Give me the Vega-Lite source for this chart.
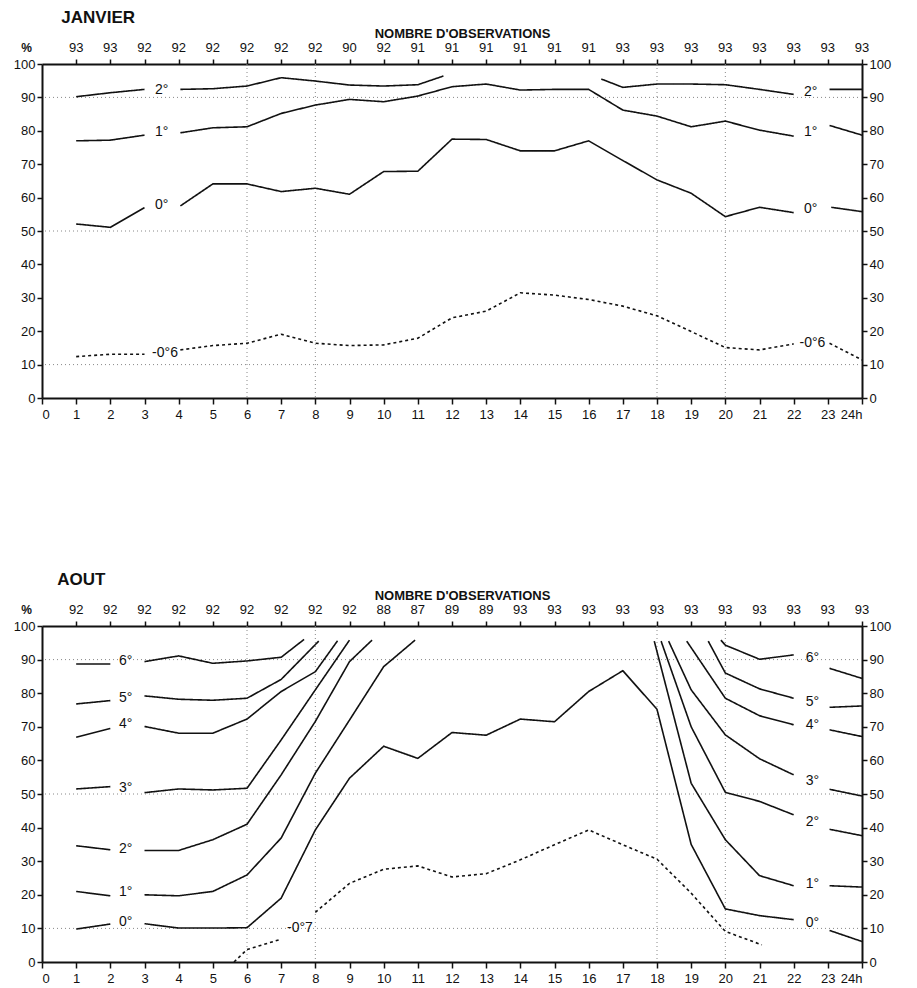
{
  "$schema": "https://vega.github.io/schema/vega-lite/v6.json",
  "background": "white",
  "padding": {"left": 13, "top": 9, "right": 5, "bottom": 5},
  "config": {
    "font": "Liberation Sans",
    "view": {"stroke": null},
    "axis": {"domainColor": "#111", "domainWidth": 2, "tickColor": "#111", "tickWidth": 1.5, "labelColor": "#111", "labelFont": "Liberation Sans", "labelFontSize": 13, "grid": false, "titleColor": "#111"}
  },
  "datasets": {
    "gx": [{"h": 6}, {"h": 8}, {"h": 18}, {"h": 20}],
    "gy": [{"v": 10}, {"v": 50}, {"v": 90}],
    "janN": [
      {"h": 1, "n": "93"}, {"h": 2, "n": "93"}, {"h": 3, "n": "92"}, {"h": 4, "n": "92"}, {"h": 5, "n": "92"}, {"h": 6, "n": "92"},
      {"h": 7, "n": "92"}, {"h": 8, "n": "92"}, {"h": 9, "n": "90"}, {"h": 10, "n": "92"}, {"h": 11, "n": "91"}, {"h": 12, "n": "91"},
      {"h": 13, "n": "91"}, {"h": 14, "n": "91"}, {"h": 15, "n": "91"}, {"h": 16, "n": "91"}, {"h": 17, "n": "93"}, {"h": 18, "n": "93"},
      {"h": 19, "n": "93"}, {"h": 20, "n": "93"}, {"h": 21, "n": "93"}, {"h": 22, "n": "93"}, {"h": 23, "n": "93"}, {"h": 24, "n": "93"}
    ],
    "aouN": [
      {"h": 1, "n": "92"}, {"h": 2, "n": "92"}, {"h": 3, "n": "92"}, {"h": 4, "n": "92"}, {"h": 5, "n": "92"}, {"h": 6, "n": "92"},
      {"h": 7, "n": "92"}, {"h": 8, "n": "92"}, {"h": 9, "n": "92"}, {"h": 10, "n": "88"}, {"h": 11, "n": "87"}, {"h": 12, "n": "89"},
      {"h": 13, "n": "89"}, {"h": 14, "n": "93"}, {"h": 15, "n": "93"}, {"h": 16, "n": "93"}, {"h": 17, "n": "93"}, {"h": 18, "n": "93"},
      {"h": 19, "n": "93"}, {"h": 20, "n": "93"}, {"h": 21, "n": "93"}, {"h": 22, "n": "93"}, {"h": 23, "n": "93"}, {"h": 24, "n": "93"}
    ],
    "janT": [
      {"h": 3.5, "v": 92.3, "t": "2°"}, {"h": 3.5, "v": 79.6, "t": "1°"}, {"h": 3.5, "v": 57.8, "t": "0°"}, {"h": 3.6, "v": 13.6, "t": "-0°6"},
      {"h": 22.5, "v": 91.7, "t": "2°"}, {"h": 22.5, "v": 79.7, "t": "1°"}, {"h": 22.5, "v": 56.6, "t": "0°"}, {"h": 22.55, "v": 16.4, "t": "-0°6"}
    ],
    "aouT": [
      {"h": 2.45, "v": 89.6, "t": "6°"}, {"h": 2.45, "v": 78.7, "t": "5°"}, {"h": 2.45, "v": 70.9, "t": "4°"}, {"h": 2.45, "v": 51.9, "t": "3°"},
      {"h": 2.45, "v": 33.6, "t": "2°"}, {"h": 2.45, "v": 20.7, "t": "1°"}, {"h": 2.45, "v": 11.8, "t": "0°"}, {"h": 7.55, "v": 10.1, "t": "-0°7"},
      {"h": 22.55, "v": 90.4, "t": "6°"}, {"h": 22.55, "v": 77.5, "t": "5°"}, {"h": 22.55, "v": 70.6, "t": "4°"}, {"h": 22.55, "v": 54.0, "t": "3°"},
      {"h": 22.55, "v": 41.8, "t": "2°"}, {"h": 22.55, "v": 23.3, "t": "1°"}, {"h": 22.55, "v": 11.6, "t": "0°"}
    ],
    "janL": [
      {"s": "2°", "k": 1, "h": 1, "v": 90.2}, {"s": "2°", "k": 1, "h": 2, "v": 91.4}, {"s": "2°", "k": 1, "h": 3, "v": 92.4},
      {"s": "2°", "k": 2, "h": 4.05, "v": 92.4}, {"s": "2°", "k": 2, "h": 5, "v": 92.6}, {"s": "2°", "k": 2, "h": 6, "v": 93.4}, {"s": "2°", "k": 2, "h": 7, "v": 95.9},
      {"s": "2°", "k": 2, "h": 8, "v": 94.9}, {"s": "2°", "k": 2, "h": 9, "v": 93.7}, {"s": "2°", "k": 2, "h": 10, "v": 93.4}, {"s": "2°", "k": 2, "h": 11, "v": 93.8},
      {"s": "2°", "k": 2, "h": 11.75, "v": 96.4},
      {"s": "2°", "k": 3, "h": 16.37, "v": 95.5}, {"s": "2°", "k": 3, "h": 17, "v": 93.0}, {"s": "2°", "k": 3, "h": 18, "v": 94.0}, {"s": "2°", "k": 3, "h": 19, "v": 94.0},
      {"s": "2°", "k": 3, "h": 20, "v": 93.8}, {"s": "2°", "k": 3, "h": 21, "v": 92.4}, {"s": "2°", "k": 3, "h": 22, "v": 90.9},
      {"s": "2°", "k": 4, "h": 23.05, "v": 92.4}, {"s": "2°", "k": 4, "h": 24, "v": 92.4},
      {"s": "1°", "k": 1, "h": 1, "v": 77.0}, {"s": "1°", "k": 1, "h": 2, "v": 77.2}, {"s": "1°", "k": 1, "h": 3, "v": 78.7},
      {"s": "1°", "k": 2, "h": 4.05, "v": 79.4}, {"s": "1°", "k": 2, "h": 5, "v": 80.9}, {"s": "1°", "k": 2, "h": 6, "v": 81.2}, {"s": "1°", "k": 2, "h": 7, "v": 85.2},
      {"s": "1°", "k": 2, "h": 8, "v": 87.7}, {"s": "1°", "k": 2, "h": 9, "v": 89.4}, {"s": "1°", "k": 2, "h": 10, "v": 88.7}, {"s": "1°", "k": 2, "h": 11, "v": 90.4},
      {"s": "1°", "k": 2, "h": 12, "v": 93.2}, {"s": "1°", "k": 2, "h": 13, "v": 94.0}, {"s": "1°", "k": 2, "h": 14, "v": 92.2}, {"s": "1°", "k": 2, "h": 15, "v": 92.4},
      {"s": "1°", "k": 2, "h": 16, "v": 92.4}, {"s": "1°", "k": 2, "h": 17, "v": 86.2}, {"s": "1°", "k": 2, "h": 18, "v": 84.4}, {"s": "1°", "k": 2, "h": 19, "v": 81.2},
      {"s": "1°", "k": 2, "h": 20, "v": 82.9}, {"s": "1°", "k": 2, "h": 21, "v": 80.2}, {"s": "1°", "k": 2, "h": 22, "v": 78.4},
      {"s": "1°", "k": 3, "h": 23.05, "v": 81.6}, {"s": "1°", "k": 3, "h": 24, "v": 78.7},
      {"s": "0°", "k": 1, "h": 1, "v": 52.1}, {"s": "0°", "k": 1, "h": 2, "v": 51.1}, {"s": "0°", "k": 1, "h": 3, "v": 57.0},
      {"s": "0°", "k": 2, "h": 4.05, "v": 57.5}, {"s": "0°", "k": 2, "h": 5, "v": 64.1}, {"s": "0°", "k": 2, "h": 6, "v": 64.1}, {"s": "0°", "k": 2, "h": 7, "v": 61.8},
      {"s": "0°", "k": 2, "h": 8, "v": 62.8}, {"s": "0°", "k": 2, "h": 9, "v": 61.0}, {"s": "0°", "k": 2, "h": 10, "v": 67.8}, {"s": "0°", "k": 2, "h": 11, "v": 67.9},
      {"s": "0°", "k": 2, "h": 12, "v": 77.5}, {"s": "0°", "k": 2, "h": 13, "v": 77.4}, {"s": "0°", "k": 2, "h": 14, "v": 74.0}, {"s": "0°", "k": 2, "h": 15, "v": 74.0},
      {"s": "0°", "k": 2, "h": 16, "v": 77.0}, {"s": "0°", "k": 2, "h": 17, "v": 71.1}, {"s": "0°", "k": 2, "h": 18, "v": 65.3}, {"s": "0°", "k": 2, "h": 19, "v": 61.3},
      {"s": "0°", "k": 2, "h": 20, "v": 54.3}, {"s": "0°", "k": 2, "h": 21, "v": 57.1}, {"s": "0°", "k": 2, "h": 22, "v": 55.5},
      {"s": "0°", "k": 3, "h": 23.1, "v": 57.1}, {"s": "0°", "k": 3, "h": 24, "v": 55.8},
      {"s": "-0°6", "k": 1, "h": 1, "v": 12.4}, {"s": "-0°6", "k": 1, "h": 2, "v": 13.1}, {"s": "-0°6", "k": 1, "h": 3.0, "v": 13.1},
      {"s": "-0°6", "k": 2, "h": 4.05, "v": 14.4}, {"s": "-0°6", "k": 2, "h": 5, "v": 15.7}, {"s": "-0°6", "k": 2, "h": 6, "v": 16.4}, {"s": "-0°6", "k": 2, "h": 7, "v": 19.1},
      {"s": "-0°6", "k": 2, "h": 8, "v": 16.4}, {"s": "-0°6", "k": 2, "h": 9, "v": 15.7}, {"s": "-0°6", "k": 2, "h": 10, "v": 15.9}, {"s": "-0°6", "k": 2, "h": 11, "v": 17.9},
      {"s": "-0°6", "k": 2, "h": 12, "v": 24.0}, {"s": "-0°6", "k": 2, "h": 13, "v": 26.0}, {"s": "-0°6", "k": 2, "h": 14, "v": 31.5}, {"s": "-0°6", "k": 2, "h": 15, "v": 30.8},
      {"s": "-0°6", "k": 2, "h": 16, "v": 29.5}, {"s": "-0°6", "k": 2, "h": 17, "v": 27.5}, {"s": "-0°6", "k": 2, "h": 18, "v": 24.6}, {"s": "-0°6", "k": 2, "h": 19, "v": 19.9},
      {"s": "-0°6", "k": 2, "h": 20, "v": 15.1}, {"s": "-0°6", "k": 2, "h": 21, "v": 14.4}, {"s": "-0°6", "k": 2, "h": 22, "v": 16.2},
      {"s": "-0°6", "k": 3, "h": 23.05, "v": 16.4}, {"s": "-0°6", "k": 3, "h": 24, "v": 11.4}
    ],
    "aouL": [
      {"s": "6°", "k": 1, "h": 1, "v": 88.7}, {"s": "6°", "k": 1, "h": 2, "v": 88.7},
      {"s": "6°", "k": 2, "h": 3, "v": 89.4}, {"s": "6°", "k": 2, "h": 4, "v": 91.1}, {"s": "6°", "k": 2, "h": 5, "v": 88.9}, {"s": "6°", "k": 2, "h": 6, "v": 89.6},
      {"s": "6°", "k": 2, "h": 7, "v": 90.7}, {"s": "6°", "k": 2, "h": 7.67, "v": 96.0},
      {"s": "6°", "k": 3, "h": 19.87, "v": 95.8}, {"s": "6°", "k": 3, "h": 20, "v": 94.3}, {"s": "6°", "k": 3, "h": 21, "v": 90.1}, {"s": "6°", "k": 3, "h": 22, "v": 91.4},
      {"s": "6°", "k": 4, "h": 23.05, "v": 87.4}, {"s": "6°", "k": 4, "h": 24, "v": 84.4},
      {"s": "5°", "k": 1, "h": 1, "v": 76.8}, {"s": "5°", "k": 1, "h": 2, "v": 77.8},
      {"s": "5°", "k": 2, "h": 3, "v": 79.2}, {"s": "5°", "k": 2, "h": 4, "v": 78.2}, {"s": "5°", "k": 2, "h": 5, "v": 77.9}, {"s": "5°", "k": 2, "h": 6, "v": 78.5},
      {"s": "5°", "k": 2, "h": 7, "v": 84.1}, {"s": "5°", "k": 2, "h": 8.1, "v": 95.5},
      {"s": "5°", "k": 3, "h": 19.5, "v": 95.5}, {"s": "5°", "k": 3, "h": 20, "v": 86.0}, {"s": "5°", "k": 3, "h": 21, "v": 81.3}, {"s": "5°", "k": 3, "h": 22, "v": 78.5},
      {"s": "5°", "k": 4, "h": 23.05, "v": 75.8}, {"s": "5°", "k": 4, "h": 24, "v": 76.2},
      {"s": "4°", "k": 1, "h": 1, "v": 66.9}, {"s": "4°", "k": 1, "h": 2, "v": 69.5},
      {"s": "4°", "k": 2, "h": 3, "v": 70.1}, {"s": "4°", "k": 2, "h": 4, "v": 68.1}, {"s": "4°", "k": 2, "h": 5, "v": 68.1}, {"s": "4°", "k": 2, "h": 6, "v": 72.3},
      {"s": "4°", "k": 2, "h": 7, "v": 80.5}, {"s": "4°", "k": 2, "h": 8, "v": 86.4}, {"s": "4°", "k": 2, "h": 8.65, "v": 95.6},
      {"s": "4°", "k": 3, "h": 18.87, "v": 95.5}, {"s": "4°", "k": 3, "h": 20, "v": 78.5}, {"s": "4°", "k": 3, "h": 21, "v": 73.3}, {"s": "4°", "k": 3, "h": 22, "v": 70.6},
      {"s": "4°", "k": 4, "h": 23.05, "v": 69.1}, {"s": "4°", "k": 4, "h": 24, "v": 67.1},
      {"s": "3°", "k": 1, "h": 1, "v": 51.5}, {"s": "3°", "k": 1, "h": 2, "v": 52.2},
      {"s": "3°", "k": 2, "h": 3, "v": 50.4}, {"s": "3°", "k": 2, "h": 4, "v": 51.5}, {"s": "3°", "k": 2, "h": 5, "v": 51.2}, {"s": "3°", "k": 2, "h": 6, "v": 51.7},
      {"s": "3°", "k": 2, "h": 7, "v": 66.1}, {"s": "3°", "k": 2, "h": 8, "v": 81.0}, {"s": "3°", "k": 2, "h": 9.0, "v": 95.8},
      {"s": "3°", "k": 3, "h": 18.34, "v": 95.5}, {"s": "3°", "k": 3, "h": 19, "v": 81.0}, {"s": "3°", "k": 3, "h": 20, "v": 67.6}, {"s": "3°", "k": 3, "h": 21, "v": 60.5},
      {"s": "3°", "k": 3, "h": 22, "v": 55.7},
      {"s": "3°", "k": 4, "h": 23.05, "v": 51.4}, {"s": "3°", "k": 4, "h": 24, "v": 49.4},
      {"s": "2°", "k": 1, "h": 1, "v": 34.6}, {"s": "2°", "k": 1, "h": 2, "v": 33.4},
      {"s": "2°", "k": 2, "h": 3, "v": 33.2}, {"s": "2°", "k": 2, "h": 4, "v": 33.2}, {"s": "2°", "k": 2, "h": 5, "v": 36.4}, {"s": "2°", "k": 2, "h": 6, "v": 41.0},
      {"s": "2°", "k": 2, "h": 7, "v": 55.7}, {"s": "2°", "k": 2, "h": 8, "v": 71.6}, {"s": "2°", "k": 2, "h": 9, "v": 89.4}, {"s": "2°", "k": 2, "h": 9.66, "v": 95.8},
      {"s": "2°", "k": 3, "h": 18.12, "v": 95.5}, {"s": "2°", "k": 3, "h": 19, "v": 70.0}, {"s": "2°", "k": 3, "h": 20, "v": 50.5}, {"s": "2°", "k": 3, "h": 21, "v": 47.8},
      {"s": "2°", "k": 3, "h": 22, "v": 43.8},
      {"s": "2°", "k": 4, "h": 23.05, "v": 39.5}, {"s": "2°", "k": 4, "h": 24, "v": 37.6},
      {"s": "1°", "k": 1, "h": 1, "v": 21.0}, {"s": "1°", "k": 1, "h": 2, "v": 19.7},
      {"s": "1°", "k": 2, "h": 3, "v": 20.0}, {"s": "1°", "k": 2, "h": 4, "v": 19.7}, {"s": "1°", "k": 2, "h": 5, "v": 21.0}, {"s": "1°", "k": 2, "h": 6, "v": 25.9},
      {"s": "1°", "k": 2, "h": 7, "v": 36.9}, {"s": "1°", "k": 2, "h": 8, "v": 56.2}, {"s": "1°", "k": 2, "h": 9, "v": 72.0}, {"s": "1°", "k": 2, "h": 10, "v": 87.9},
      {"s": "1°", "k": 2, "h": 10.92, "v": 95.8},
      {"s": "1°", "k": 3, "h": 17.92, "v": 95.5}, {"s": "1°", "k": 3, "h": 19, "v": 53.2}, {"s": "1°", "k": 3, "h": 20, "v": 36.4}, {"s": "1°", "k": 3, "h": 21, "v": 25.7},
      {"s": "1°", "k": 3, "h": 22, "v": 22.7},
      {"s": "1°", "k": 4, "h": 23.05, "v": 22.7}, {"s": "1°", "k": 4, "h": 24, "v": 22.3},
      {"s": "0°", "k": 1, "h": 1, "v": 9.8}, {"s": "0°", "k": 1, "h": 2, "v": 11.3},
      {"s": "0°", "k": 2, "h": 3, "v": 11.4}, {"s": "0°", "k": 2, "h": 4, "v": 10.1}, {"s": "0°", "k": 2, "h": 5, "v": 10.1}, {"s": "0°", "k": 2, "h": 6, "v": 10.2},
      {"s": "0°", "k": 2, "h": 7, "v": 19.0}, {"s": "0°", "k": 2, "h": 8, "v": 39.3}, {"s": "0°", "k": 2, "h": 9, "v": 54.7}, {"s": "0°", "k": 2, "h": 10, "v": 64.2},
      {"s": "0°", "k": 2, "h": 11, "v": 60.6}, {"s": "0°", "k": 2, "h": 12, "v": 68.3}, {"s": "0°", "k": 2, "h": 13, "v": 67.5}, {"s": "0°", "k": 2, "h": 14, "v": 72.3},
      {"s": "0°", "k": 2, "h": 15, "v": 71.5}, {"s": "0°", "k": 2, "h": 16, "v": 80.5}, {"s": "0°", "k": 2, "h": 17, "v": 86.7}, {"s": "0°", "k": 2, "h": 18, "v": 75.2},
      {"s": "0°", "k": 2, "h": 19, "v": 35.0}, {"s": "0°", "k": 2, "h": 20, "v": 15.8}, {"s": "0°", "k": 2, "h": 21, "v": 13.8}, {"s": "0°", "k": 2, "h": 22, "v": 12.6},
      {"s": "0°", "k": 3, "h": 23.05, "v": 9.4}, {"s": "0°", "k": 3, "h": 24, "v": 6.1},
      {"s": "-0°7", "k": 1, "h": 5.62, "v": 0}, {"s": "-0°7", "k": 1, "h": 6, "v": 3.7}, {"s": "-0°7", "k": 1, "h": 6.94, "v": 6.6},
      {"s": "-0°7", "k": 2, "h": 8, "v": 14.8}, {"s": "-0°7", "k": 2, "h": 9, "v": 23.4}, {"s": "-0°7", "k": 2, "h": 10, "v": 27.6}, {"s": "-0°7", "k": 2, "h": 11, "v": 28.6},
      {"s": "-0°7", "k": 2, "h": 12, "v": 25.3}, {"s": "-0°7", "k": 2, "h": 13, "v": 26.3}, {"s": "-0°7", "k": 2, "h": 14, "v": 30.4}, {"s": "-0°7", "k": 2, "h": 15, "v": 34.9},
      {"s": "-0°7", "k": 2, "h": 16, "v": 39.3}, {"s": "-0°7", "k": 2, "h": 17, "v": 34.9}, {"s": "-0°7", "k": 2, "h": 18, "v": 30.6}, {"s": "-0°7", "k": 2, "h": 19, "v": 20.5},
      {"s": "-0°7", "k": 2, "h": 20, "v": 9.1}, {"s": "-0°7", "k": 2, "h": 21.07, "v": 5.1}
    ]
  },
  "spacing": 150,
  "vconcat": [
    {
      "width": 820,
      "height": 334,
      "title": {"text": "JANVIER", "anchor": "start", "dx": 48, "fontSize": 17, "fontWeight": "bold", "color": "#111", "offset": 0},
      "resolve": {"axis": {"x": "independent", "y": "independent"}},
      "layer": [
        {
          "data": {"name": "gx"},
          "mark": {"type": "rule", "color": "#888", "strokeDash": [1, 3], "strokeWidth": 1},
          "encoding": {"x": {"field": "h", "type": "quantitative", "scale": {"domain": [0, 24], "nice": false, "zero": false}, "axis": null}}
        },
        {
          "data": {"name": "gy"},
          "mark": {"type": "rule", "color": "#888", "strokeDash": [1, 3], "strokeWidth": 1},
          "encoding": {"y": {"field": "v", "type": "quantitative", "scale": {"domain": [0, 100], "nice": false}, "axis": null}}
        },
        {
          "data": {"name": "janL"},
          "mark": {"type": "line", "color": "#111", "strokeWidth": 1.6},
          "encoding": {
            "x": {"field": "h", "type": "quantitative", "scale": {"domain": [0, 24], "nice": false, "zero": false},
              "axis": {"orient": "bottom", "values": [0,1,2,3,4,5,6,7,8,9,10,11,12,13,14,15,16,17,18,19,20,21,22,23,24], "title": null, "labelExpr": "datum.value === 24 ? '24h' : datum.label", "tickSize": 6, "labelPadding": 4, "labelFontSize": 13}},
            "y": {"field": "v", "type": "quantitative", "scale": {"domain": [0, 100], "nice": false},
              "axis": {"orient": "left", "values": [0,10,20,30,40,50,60,70,80,90,100], "title": "%", "titleAngle": 0, "titleX": -16, "titleY": -10, "titleFontSize": 12, "titleFontWeight": "bold", "tickSize": 5, "labelPadding": 2}},
            "detail": [{"field": "s"}, {"field": "k"}],
            "strokeDash": {"condition": {"test": "indexof(datum.s, '-') === 0", "value": [3, 3]}, "value": [1, 0]}
          }
        },
        {
          "data": {"name": "janT"},
          "mark": {"type": "text", "fontSize": 14, "color": "#111", "align": "center", "baseline": "middle"},
          "encoding": {
            "x": {"field": "h", "type": "quantitative", "scale": {"domain": [0, 24], "nice": false, "zero": false}, "axis": null},
            "y": {"field": "v", "type": "quantitative", "scale": {"domain": [0, 100], "nice": false},
              "axis": {"orient": "right", "values": [0,10,20,30,40,50,60,70,80,90,100], "title": null, "tickSize": 5, "labelPadding": 2}},
            "text": {"field": "t"}
          }
        },
        {
          "data": {"name": "janN"},
          "mark": {"type": "text", "fontSize": 13, "color": "#111", "align": "center", "baseline": "middle", "dy": -16},
          "encoding": {
            "x": {"field": "h", "type": "quantitative", "scale": {"domain": [0, 24], "nice": false, "zero": false},
              "axis": {"orient": "top", "values": [1,2,3,4,5,6,7,8,9,10,11,12,13,14,15,16,17,18,19,20,21,22,23,24], "labels": false, "tickSize": 5, "title": "NOMBRE D'OBSERVATIONS", "titleFontSize": 13, "titleFontWeight": "bold", "titlePadding": 18, "titleX": 420}},
            "y": {"datum": 100, "type": "quantitative", "scale": {"domain": [0, 100], "nice": false}, "axis": null},
            "text": {"field": "n"}
          }
        }
      ]
    },
    {
      "width": 820,
      "height": 336,
      "title": {"text": "AOUT", "anchor": "start", "dx": 44, "fontSize": 17, "fontWeight": "bold", "color": "#111", "offset": 0},
      "resolve": {"axis": {"x": "independent", "y": "independent"}},
      "layer": [
        {
          "data": {"name": "gx"},
          "mark": {"type": "rule", "color": "#888", "strokeDash": [1, 3], "strokeWidth": 1},
          "encoding": {"x": {"field": "h", "type": "quantitative", "scale": {"domain": [0, 24], "nice": false, "zero": false}, "axis": null}}
        },
        {
          "data": {"name": "gy"},
          "mark": {"type": "rule", "color": "#888", "strokeDash": [1, 3], "strokeWidth": 1},
          "encoding": {"y": {"field": "v", "type": "quantitative", "scale": {"domain": [0, 100], "nice": false}, "axis": null}}
        },
        {
          "data": {"name": "aouL"},
          "mark": {"type": "line", "color": "#111", "strokeWidth": 1.6},
          "encoding": {
            "x": {"field": "h", "type": "quantitative", "scale": {"domain": [0, 24], "nice": false, "zero": false},
              "axis": {"orient": "bottom", "values": [0,1,2,3,4,5,6,7,8,9,10,11,12,13,14,15,16,17,18,19,20,21,22,23,24], "title": null, "labelExpr": "datum.value === 24 ? '24h' : datum.label", "tickSize": 6, "labelPadding": 4, "labelFontSize": 13}},
            "y": {"field": "v", "type": "quantitative", "scale": {"domain": [0, 100], "nice": false},
              "axis": {"orient": "left", "values": [0,10,20,30,40,50,60,70,80,90,100], "title": "%", "titleAngle": 0, "titleX": -16, "titleY": -10, "titleFontSize": 12, "titleFontWeight": "bold", "tickSize": 5, "labelPadding": 2}},
            "detail": [{"field": "s"}, {"field": "k"}],
            "strokeDash": {"condition": {"test": "indexof(datum.s, '-') === 0", "value": [3, 3]}, "value": [1, 0]}
          }
        },
        {
          "data": {"name": "aouT"},
          "mark": {"type": "text", "fontSize": 14, "color": "#111", "align": "center", "baseline": "middle"},
          "encoding": {
            "x": {"field": "h", "type": "quantitative", "scale": {"domain": [0, 24], "nice": false, "zero": false}, "axis": null},
            "y": {"field": "v", "type": "quantitative", "scale": {"domain": [0, 100], "nice": false},
              "axis": {"orient": "right", "values": [0,10,20,30,40,50,60,70,80,90,100], "title": null, "tickSize": 5, "labelPadding": 2}},
            "text": {"field": "t"}
          }
        },
        {
          "data": {"name": "aouN"},
          "mark": {"type": "text", "fontSize": 13, "color": "#111", "align": "center", "baseline": "middle", "dy": -16},
          "encoding": {
            "x": {"field": "h", "type": "quantitative", "scale": {"domain": [0, 24], "nice": false, "zero": false},
              "axis": {"orient": "top", "values": [1,2,3,4,5,6,7,8,9,10,11,12,13,14,15,16,17,18,19,20,21,22,23,24], "labels": false, "tickSize": 5, "title": "NOMBRE D'OBSERVATIONS", "titleFontSize": 13, "titleFontWeight": "bold", "titlePadding": 18, "titleX": 420}},
            "y": {"datum": 100, "type": "quantitative", "scale": {"domain": [0, 100], "nice": false}, "axis": null},
            "text": {"field": "n"}
          }
        }
      ]
    }
  ]
}
